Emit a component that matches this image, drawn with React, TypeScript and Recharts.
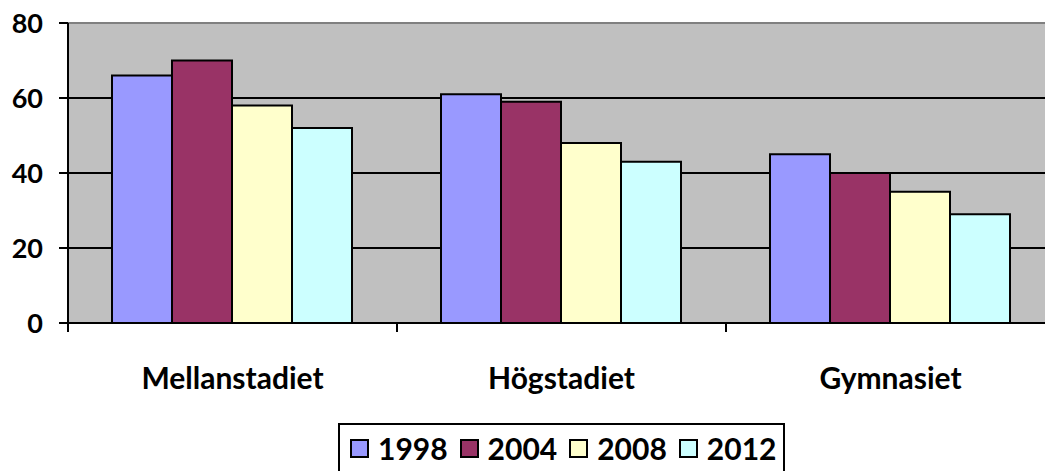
import React from 'react';
import { BarChart, Bar, XAxis, YAxis, CartesianGrid, Legend, ReferenceLine } from 'recharts';

const categories = ['Mellanstadiet', 'Högstadiet', 'Gymnasiet'];
const years = ['1998', '2004', '2008', '2012'];
const v1998 = [66, 61, 45];
const v2004 = [70, 59, 40];
const v2008 = [58, 48, 35];
const v2012 = [52, 43, 29];
const yTicks = [0, 20, 40, 60, 80];

const colors = ['#9999FF', '#993366', '#FFFFCC', '#CCFFFF'];
const FONT = 'Lato, "Open Sans", sans-serif';

const data = categories.map((name, i) => ({
  name,
  y1998: v1998[i],
  y2004: v2004[i],
  y2008: v2008[i],
  y2012: v2012[i],
}));

const XTick = (props: any) => {
  const { x, y, payload } = props;
  const bx = x - (payload.offset || 0);
  return (
    <g>
      <line x1={bx} y1={y} x2={bx} y2={y + 9} stroke="#000" strokeWidth={2} />
      <text x={x} y={y + 54} textAnchor="middle" dominantBaseline="central"
        fontFamily={FONT} fontWeight="bold" fontSize={30} fill="#000">
        {payload.value}
      </text>
    </g>
  );
};

const LegendBox = () => (
  <div style={{
    display: 'flex', alignItems: 'center', height: 50, width: 447, boxSizing: 'border-box',
    border: '2px solid #000', background: '#fff', padding: '0 0 0 10px',
    fontFamily: FONT, fontWeight: 'bold', fontSize: 30, color: '#000',
  }}>
    {years.map((yr, i) => (
      <div key={yr} style={{ display: 'flex', alignItems: 'center', marginLeft: i === 0 ? 0 : 12 }}>
        <span style={{
          width: 19, height: 19, boxSizing: 'border-box', border: '2px solid #000',
          background: colors[i], marginRight: 9, display: 'inline-block',
        }} />
        <span>{yr}</span>
      </div>
    ))}
  </div>
);

export default function App() {
  return (
    <div style={{ position: 'absolute', left: 0, top: 0, width: 1045, height: 471, overflow: 'hidden', background: '#fff' }}>
      <BarChart width={1070} height={471} data={data}
        margin={{ top: 23, right: 15, left: 0, bottom: 0 }}
        barCategoryGap={44} barGap={0}>
        <CartesianGrid vertical={false} stroke="#000" strokeWidth={2} fill="#C0C0C0" fillOpacity={1} />
        <XAxis dataKey="name" height={98} tick={<XTick />} tickLine={false} tickSize={0} tickMargin={0}
          axisLine={{ stroke: '#000', strokeWidth: 2 }} interval={0} />
        <YAxis domain={[0, 80]} ticks={yTicks} width={68} tickSize={9} tickMargin={16}
          axisLine={{ stroke: '#000', strokeWidth: 2 }} tickLine={{ stroke: '#000', strokeWidth: 2 }}
          tick={{ fontFamily: FONT, fontWeight: 'bold', fontSize: 27, fill: '#000' }} />
        <ReferenceLine y={80} stroke="#808080" strokeWidth={2} />
        <Bar dataKey="y1998" name="1998" fill={colors[0]} stroke="#000" strokeWidth={2} isAnimationActive={false} />
        <Bar dataKey="y2004" name="2004" fill={colors[1]} stroke="#000" strokeWidth={2} isAnimationActive={false} />
        <Bar dataKey="y2008" name="2008" fill={colors[2]} stroke="#000" strokeWidth={2} isAnimationActive={false} />
        <Bar dataKey="y2012" name="2012" fill={colors[3]} stroke="#000" strokeWidth={2} isAnimationActive={false} />
        <Legend verticalAlign="bottom" content={<LegendBox />}
          wrapperStyle={{ left: 338, width: 447, bottom: -2 }} />
      </BarChart>
    </div>
  );
}
